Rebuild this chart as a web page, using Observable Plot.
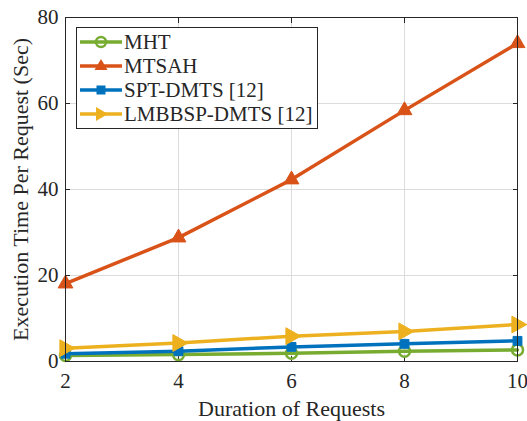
<!DOCTYPE html>
<html>
<head>
<meta charset="utf-8">
<script src="https://cdn.jsdelivr.net/npm/d3@7"></script>
<script src="https://cdn.jsdelivr.net/npm/@observablehq/plot@0.6"></script>
<style>
  html, body { margin: 0; padding: 0; background: #fff; }
  #wrap { position: relative; width: 527px; height: 421px; font-family: "Liberation Serif", "DejaVu Serif", serif; }
  #legend { position: absolute; left: 76px; top: 27px; width: 242px; height: 102px; border: 1px solid #262626; background: #fff; box-sizing: border-box; padding-top: 2px; }
  .item { display: flex; align-items: center; height: 24px; font-size: 21px; color: #262626; line-height: 24px; }
  .item svg { margin-left: 3px; margin-right: 2px; flex: none; }
</style>
</head>
<body>
<div id="wrap"></div>
<script>
const durations = [2, 4, 6, 8, 10];
const mht = [1.4, 1.6, 1.9, 2.4, 2.7];
const mtsah = [18.1, 28.8, 42.3, 58.4, 74.0];
const sptDmts = [1.8, 2.4, 3.4, 4.1, 4.8];
const lmbbspDmts = [3.1, 4.3, 5.9, 7.0, 8.6];
const seriesNames = ["MHT", "MTSAH", "SPT-DMTS [12]", "LMBBSP-DMTS [12]"];
const seriesColors = ["#77AC30", "#D95319", "#0072BD", "#EDB120"];
const xTicks = [2, 4, 6, 8, 10];
const yTicks = [0, 20, 40, 60, 80];

const triRight = {
  draw(context, size) {
    const r = Math.sqrt(size / 1.3);
    context.moveTo(r, 0);
    context.lineTo(-r * 0.6, -r * 0.9);
    context.lineTo(-r * 0.6, r * 0.9);
    context.closePath();
  }
};

const allValues = [mht, mtsah, sptDmts, lmbbspDmts];
const data = [];
allValues.forEach((vals, i) => {
  vals.forEach((v, j) => data.push({series: seriesNames[i], x: durations[j], y: v}));
});
const bySeries = name => data.filter(d => d.series === name);

const ink = "#262626";
const chart = Plot.plot({
  width: 527,
  height: 421,
  marginLeft: 65,
  marginRight: 10,
  marginTop: 17,
  marginBottom: 60,
  style: { fontFamily: "Liberation Serif, serif", fontSize: "21px", color: ink, background: "#fff", overflow: "visible" },
  x: { domain: [2, 10], ticks: xTicks, label: null },
  y: { domain: [0, 80], ticks: yTicks, label: null },
  marks: [
    Plot.gridX(xTicks, { stroke: "#dcdcdc", strokeOpacity: 1 }),
    Plot.gridY(yTicks, { stroke: "#dcdcdc", strokeOpacity: 1 }),
    Plot.axisX({ ticks: xTicks, tickSize: -5, tickPadding: 17, stroke: ink, fontSize: 21, label: null }),
    Plot.axisY({ ticks: yTicks, tickSize: -5, tickPadding: 12, stroke: ink, fontSize: 21, label: null }),
    Plot.axisX({ anchor: "top", ticks: xTicks, tickSize: -5, tickFormat: () => "", stroke: ink, label: null }),
    Plot.axisY({ anchor: "right", ticks: yTicks, tickSize: -5, tickFormat: () => "", stroke: ink, label: null }),
    // MHT
    Plot.line(bySeries("MHT"), { x: "x", y: "y", stroke: seriesColors[0], strokeWidth: 3.5 }),
    Plot.dot(bySeries("MHT"), { x: "x", y: "y", r: 5.5, stroke: seriesColors[0], strokeWidth: 2.5, fill: "none" }),
    // MTSAH
    Plot.line(bySeries("MTSAH"), { x: "x", y: "y", stroke: seriesColors[1], strokeWidth: 3.5 }),
    Plot.dot(bySeries("MTSAH"), { x: "x", y: "y", r: 5.5, symbol: "triangle", fill: seriesColors[1], stroke: seriesColors[1], strokeWidth: 1 }),
    // SPT
    Plot.line(bySeries("SPT-DMTS [12]"), { x: "x", y: "y", stroke: seriesColors[2], strokeWidth: 3.5 }),
    Plot.dot(bySeries("SPT-DMTS [12]"), { x: "x", y: "y", r: 5, symbol: "square", fill: seriesColors[2], stroke: seriesColors[2], strokeWidth: 1 }),
    // LMBBSP
    Plot.line(bySeries("LMBBSP-DMTS [12]"), { x: "x", y: "y", stroke: seriesColors[3], strokeWidth: 3.5 }),
    Plot.dot(bySeries("LMBBSP-DMTS [12]"), { x: "x", y: "y", r: 6, symbol: triRight, fill: seriesColors[3], stroke: seriesColors[3], strokeWidth: 1 }),
    Plot.frame({ stroke: ink, strokeWidth: 1 }),
    Plot.text(["Duration of Requests"], { frameAnchor: "bottom", lineAnchor: "middle", dy: 47, fontSize: 22, fill: ink }),
    Plot.text(["Execution Time Per Request (Sec)"], { frameAnchor: "left", textAnchor: "middle", lineAnchor: "middle", dx: -45, rotate: -90, fontSize: 22, fill: ink })
  ]
});
const wrap = document.getElementById("wrap");
wrap.appendChild(chart);

const legend = document.createElement("div");
legend.id = "legend";
const markerSvg = i => {
  const c = seriesColors[i];
  let m;
  if (i === 0) m = `<circle cx="21" cy="10" r="5" fill="none" stroke="${c}" stroke-width="2.5"/>`;
  else if (i === 1) m = `<path d="M21,3 L27.5,14 L14.5,14 Z" fill="${c}"/>`;
  else if (i === 2) m = `<rect x="16.5" y="5.5" width="9" height="9" fill="${c}"/>`;
  else m = `<path d="M28,10 L16,3 L16,17 Z" fill="${c}"/>`;
  return `<svg width="42" height="20"><line x1="0" y1="10" x2="42" y2="10" stroke="${c}" stroke-width="3.5"/>${m}</svg>`;
};
seriesNames.forEach((name, i) => {
  const it = document.createElement("div");
  it.className = "item";
  it.innerHTML = markerSvg(i) + `<span>${name}</span>`;
  legend.appendChild(it);
});
wrap.appendChild(legend);
</script>
</body>
</html>
